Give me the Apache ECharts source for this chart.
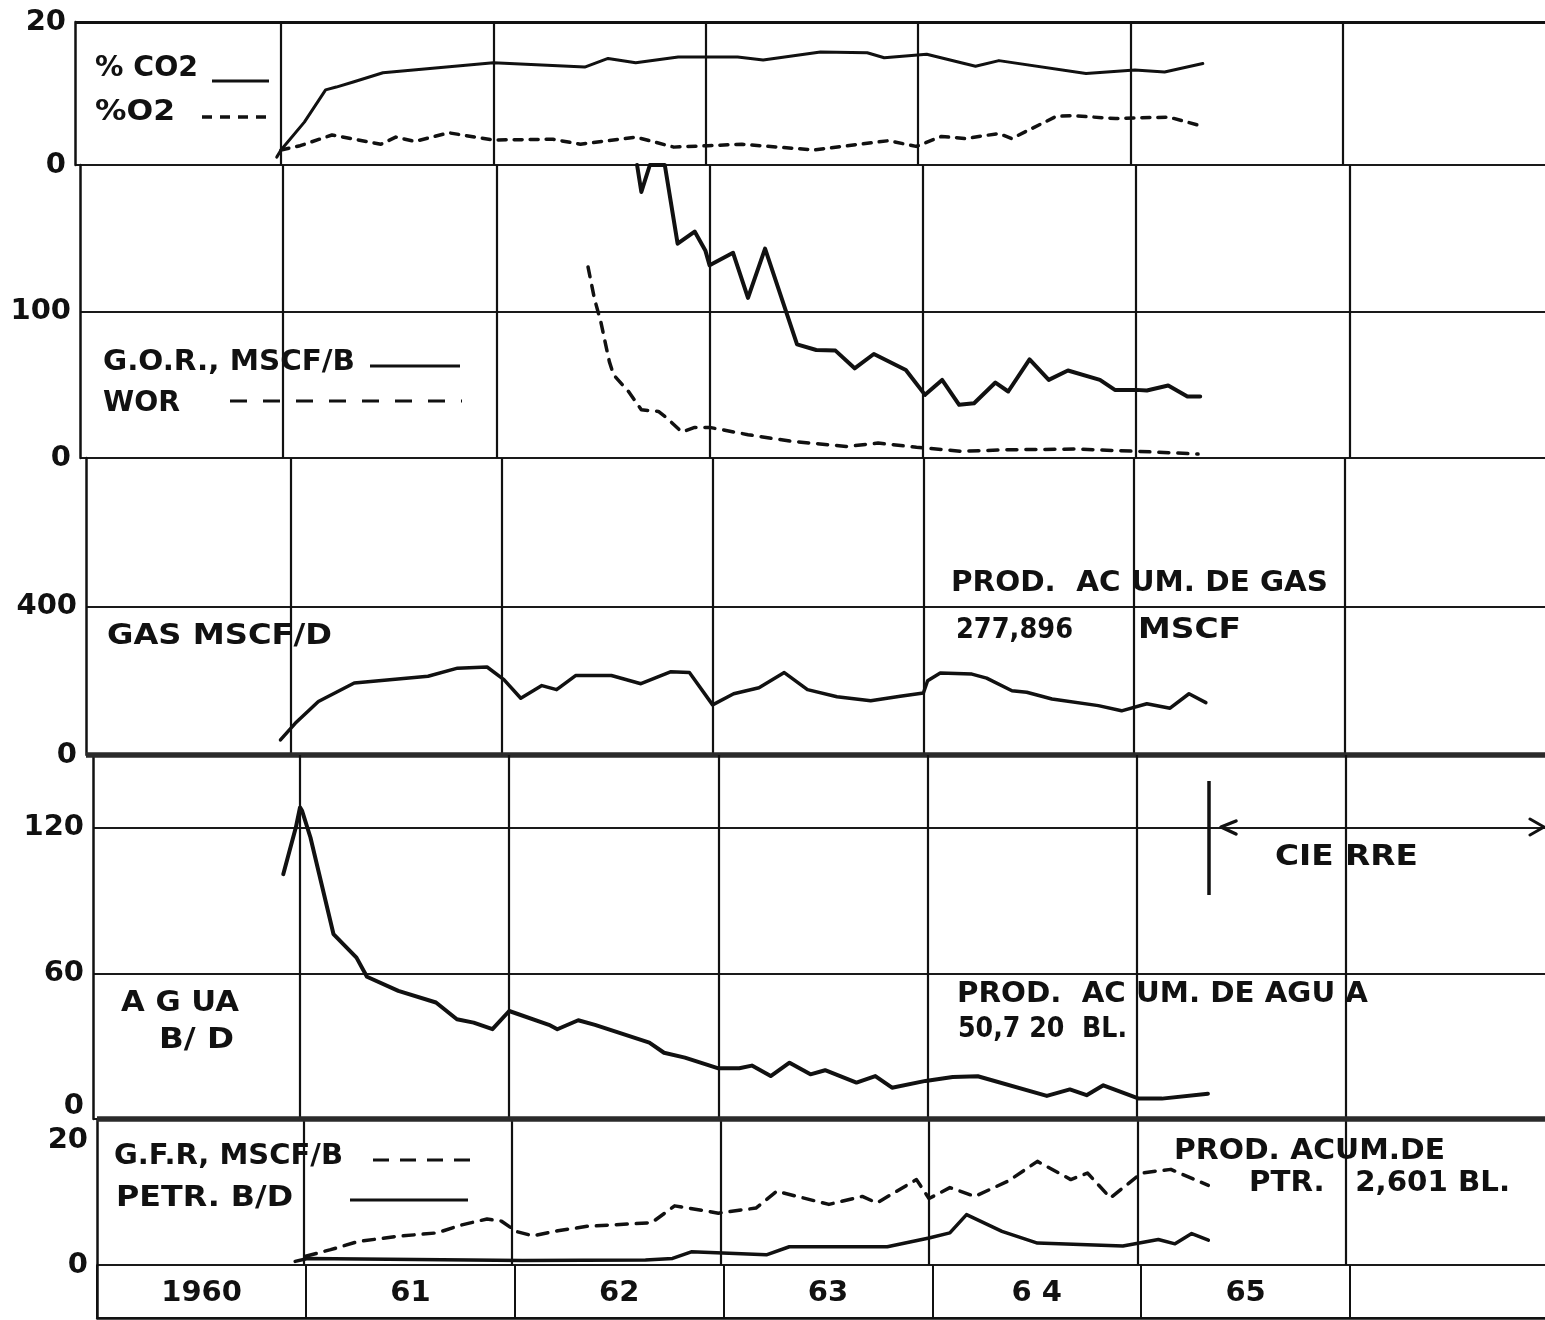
<!DOCTYPE html>
<html><head><meta charset="utf-8">
<script src="https://cdn.jsdelivr.net/npm/echarts@6/dist/echarts.min.js"></script>
<style>html,body{margin:0;padding:0;background:#fff}#c{width:1545px;height:1320px}</style>
</head><body><div id="c"></div>
<script>
// ---------------- DATA ----------------
const yearLines = [1961, 1962, 1963, 1964, 1965, 1966];
const yearLabels = ['1960', '61', '62', '63', '6 4', '65'];
const yearMids = [1960.5, 1961.5, 1962.5, 1963.5, 1964.5, 1965.5];

const co2 = [[1960.98,1.1],[1961.0,2.1],[1961.11,6.0],[1961.21,10.5],[1961.26,10.9],[1961.34,11.6],[1961.48,12.9],[1962.0,14.3],[1962.43,13.7],[1962.54,14.9],[1962.67,14.3],[1962.87,15.1],[1963.15,15.1],[1963.27,14.7],[1963.54,15.8],[1963.76,15.7],[1963.84,15.0],[1964.04,15.5],[1964.27,13.8],[1964.38,14.6],[1964.79,12.8],[1965.02,13.3],[1965.16,13.0],[1965.34,14.2]];
const o2 = [[1961.0,2.1],[1961.09,2.7],[1961.24,4.2],[1961.47,2.9],[1961.54,3.9],[1961.63,3.3],[1961.79,4.5],[1962.0,3.5],[1962.28,3.6],[1962.41,2.9],[1962.67,3.9],[1962.85,2.5],[1963.01,2.7],[1963.17,2.9],[1963.51,2.1],[1963.86,3.4],[1963.99,2.6],[1964.11,4.0],[1964.22,3.7],[1964.38,4.4],[1964.44,3.7],[1964.65,6.8],[1964.72,6.9],[1964.93,6.5],[1965.18,6.7],[1965.34,5.4]];
const gor = [[1962.66,200],[1962.68,181.6],[1962.72,200],[1962.79,200],[1962.85,146.3],[1962.93,154.6],[1962.98,141.7],[1963.0,131.5],[1963.11,140.1],[1963.18,109.3],[1963.26,142.9],[1963.41,77.6],[1963.5,73.7],[1963.59,73.3],[1963.68,61.2],[1963.77,71.0],[1963.92,60.1],[1964.01,43.1],[1964.09,53.3],[1964.17,36.3],[1964.24,37.4],[1964.34,51.5],[1964.4,45.4],[1964.5,67.3],[1964.59,53.3],[1964.68,59.7],[1964.83,53.3],[1964.9,46.5],[1965.0,46.5],[1965.05,46.1],[1965.15,49.5],[1965.24,42.0],[1965.3,42.0]];
const wor = [[1962.43,130.4],[1962.46,108.8],[1962.49,92.9],[1962.51,79.3],[1962.53,65.8],[1962.55,56.7],[1962.62,45.4],[1962.68,32.9],[1962.76,31.8],[1962.8,27.2],[1962.87,17.7],[1962.93,20.9],[1963.0,20.9],[1963.18,15.9],[1963.39,11.3],[1963.64,7.9],[1963.79,10.2],[1963.97,7.3],[1964.18,4.6],[1964.39,5.6],[1964.71,6.1],[1965.0,4.6],[1965.19,3.4],[1965.29,2.7]];
const gas = [[1960.95,40.5],[1961.02,85.4],[1961.13,144],[1961.3,194],[1961.65,212],[1961.79,234],[1961.93,237],[1962.01,203],[1962.09,153],[1962.19,187],[1962.26,176],[1962.35,214],[1962.52,214],[1962.66,192],[1962.8,224],[1962.89,222],[1963.0,135],[1963.1,165],[1963.22,181],[1963.34,222],[1963.45,176],[1963.59,157],[1963.75,146],[1963.89,158],[1964.0,167],[1964.02,200],[1964.08,221],[1964.23,218],[1964.3,207],[1964.42,173],[1964.49,169],[1964.61,151],[1964.83,133],[1964.94,119],[1965.06,138],[1965.17,126],[1965.26,165],[1965.34,141]];
const agua = [[1960.92,100.9],[1960.98,120.1],[1961.0,128.4],[1961.01,127],[1961.05,116],[1961.16,76.2],[1961.27,66.5],[1961.32,58.6],[1961.47,52.8],[1961.65,48],[1961.75,41.1],[1961.83,39.7],[1961.92,37],[1962.0,44.5],[1962.19,38.8],[1962.23,37],[1962.33,40.7],[1962.41,38.8],[1962.67,31.5],[1962.74,27.3],[1962.84,25.3],[1963.0,20.9],[1963.1,20.9],[1963.16,22],[1963.25,17.7],[1963.34,23.2],[1963.44,18.4],[1963.51,20.1],[1963.66,15],[1963.75,17.7],[1963.83,12.9],[1963.99,15.7],[1964.12,17.3],[1964.24,17.6],[1964.57,9.5],[1964.68,12.2],[1964.76,9.8],[1964.84,13.9],[1965.01,8.4],[1965.12,8.4],[1965.34,10.4]];
const gfr = [[1961.01,1.2],[1961.13,2.1],[1961.26,3.2],[1961.44,3.9],[1961.64,4.4],[1961.76,5.5],[1961.88,6.3],[1961.95,6.0],[1962.02,4.6],[1962.1,4.0],[1962.22,4.7],[1962.36,5.3],[1962.67,5.8],[1962.78,8.1],[1962.99,7.1],[1963.17,7.8],[1963.27,10.1],[1963.52,8.3],[1963.68,9.4],[1963.75,8.5],[1963.94,11.7],[1964.0,9.1],[1964.1,10.6],[1964.22,9.4],[1964.38,11.5],[1964.52,14.2],[1964.68,11.7],[1964.76,12.6],[1964.87,9.2],[1965.02,12.6],[1965.16,13.1],[1965.34,10.9]];
const petr = [[1960.96,0.5],[1961.02,0.9],[1962.05,0.6],[1962.64,0.7],[1962.77,0.9],[1962.86,1.8],[1963.22,1.4],[1963.33,2.5],[1963.8,2.5],[1964.0,3.7],[1964.1,4.4],[1964.18,6.9],[1964.35,4.6],[1964.52,3.0],[1964.93,2.6],[1965.1,3.5],[1965.18,2.9],[1965.26,4.3],[1965.34,3.4]];

// ---------------- LAYOUT ----------------
const INK = '#111';
const FONT = '"DejaVu Sans", sans-serif';
const X_END = 1967;
const panels = [
  {top: 22,   bottom: 165,  left: 75, p1961: 281,   step: 212.4, min: 0, max: 20,  interval: 20},
  {top: 165,  bottom: 458,  left: 80, p1961: 283,   step: 213.3, min: 0, max: 200, interval: 100, hideMax: true},
  {top: 458,  bottom: 755,  left: 86, p1961: 291,   step: 210.8, min: 0, max: 800, interval: 400, hideMax: true},
  {top: 755,  bottom: 1119, left: 93, p1961: 300,   step: 209.2, min: 0, max: 150, interval: 60,  hideMax: true, zeroUp: true},
  {top: 1119, bottom: 1265, left: 97, p1961: 303.5, step: 208.5, min: 0, max: 20,  interval: 20,  topDown: true},
  {top: 1265, bottom: 1318, left: 0,  p1961: 306,   step: 208.8, min: 0, max: 1,   interval: 1,   noLabel: true}
];
panels.forEach((p, i) => {
  if (i === 5) { p.xmin = 1960; p.left = p.p1961 - p.step; }
  else p.xmin = 1961 - (p.p1961 - p.left) / p.step;
});

const grids = panels.map(p => ({
  left: p.left, top: p.top, width: (X_END - p.xmin) * p.step, height: p.bottom - p.top,
  outerBoundsMode: 'none', containLabel: false
}));

const xAxes = panels.map((p, i) => {
  if (i < 5) return {gridIndex: i, type: 'value', min: p.xmin, max: X_END, show: false};
  return {
    gridIndex: i, type: 'value', min: 1960, max: X_END, interval: 1, position: 'bottom',
    axisLine: {show: true, lineStyle: {color: INK, width: 2.5}},
    axisTick: {show: false},
    splitLine: {show: true, lineStyle: {color: INK, width: 2}},
    axisLabel: {
      inside: true, margin: 10, customValues: yearMids,
      fontSize: 29, fontWeight: 'bold', fontFamily: FONT, color: INK,
      formatter: v => yearLabels[Math.round(v - 1960.5)] || ''
    }
  };
});

const labelRich = {
  up: {fontSize: 29, fontWeight: 'bold', fontFamily: FONT, color: INK, padding: [0, 0, 26, 0]},
  down: {fontSize: 29, fontWeight: 'bold', fontFamily: FONT, color: INK, padding: [42, 0, 0, 0]}
};
const yAxes = panels.map((p, i) => ({
  gridIndex: i, type: 'value', min: p.min, max: p.max, interval: p.interval,
  axisLine: {show: true, lineStyle: {color: INK, width: 2.5}},
  axisTick: {show: false},
  splitLine: {show: true, lineStyle: {color: '#1a1a1a', width: 2}},
  axisLabel: {
    show: !p.noLabel, showMaxLabel: !p.hideMax, showMinLabel: true,
    fontSize: 29, fontWeight: 'bold', fontFamily: FONT, color: INK, margin: 9, rich: labelRich,
    formatter: v => {
      if (p.zeroUp && v === 0) return '{up|0}';
      if (p.topDown && v === p.max) return '{down|' + v + '}';
      return String(v);
    }
  }
}));

function vLines(extra) {
  return {
    silent: true, symbol: ['none', 'none'], animation: false,
    label: {show: false},
    lineStyle: {color: INK, width: 2.2, type: 'solid'},
    data: yearLines.map(y => ({xAxis: y})).concat(extra || [])
  };
}
function ln(name, data, idx, width, dash, marks) {
  const s = {
    name, type: 'line', xAxisIndex: idx, yAxisIndex: idx, data,
    symbol: 'none', animation: false, z: 5,
    lineStyle: {color: INK, width, type: dash || 'solid', cap: 'round', join: 'round'}
  };
  if (marks) s.markLine = marks;
  return s;
}
const thick = {lineStyle: {color: '#2b2b2b', width: 5.5, type: 'solid'}};
const series = [
  ln('% CO2', co2, 0, 3, null, vLines([{yAxis: 20, lineStyle: {color: INK, width: 3}}])),
  ln('% O2', o2, 0, 3.5, [8, 8]),
  ln('G.O.R., MSCF/B', gor, 1, 4, null, vLines()),
  ln('WOR', wor, 1, 3.5, [10, 9]),
  ln('GAS MSCF/D', gas, 2, 3.5, null, vLines([Object.assign({yAxis: 0}, thick)])),
  ln('AGUA B/D', agua, 3, 4, null, vLines()),
  ln('PETR. B/D', petr, 4, 3.5, null, vLines([Object.assign({yAxis: 20}, thick)])),
  ln('G.F.R, MSCF/B', gfr, 4, 3.5, [11, 9]),
  {type: 'line', xAxisIndex: 5, yAxisIndex: 5, data: [], symbol: 'none'}
];

// ---------------- ANNOTATIONS ----------------
const mctx = document.createElement('canvas').getContext('2d');
const TXT_FONT = 'bold 29px "DejaVu Sans"';
mctx.font = TXT_FONT;
function txt(text, x, cy, w) {
  const m = mctx.measureText(text).width;
  return {
    type: 'text', x, y: cy, scaleX: w / m, z: 10, silent: true,
    style: {text, font: TXT_FONT, fill: INK, verticalAlign: 'middle', align: 'left'}
  };
}
function seg(x1, y1, x2, y2, w, dash) {
  return {type: 'line', z: 10, silent: true, shape: {x1, y1, x2, y2},
    style: {stroke: INK, lineWidth: w, lineDash: dash || null, lineCap: 'butt'}};
}
function poly(points, w) {
  return {type: 'polyline', z: 10, silent: true, shape: {points},
    style: {stroke: INK, lineWidth: w, fill: null, lineJoin: 'round', lineCap: 'round'}};
}
const graphic = [
  txt('% CO2', 95, 68, 103), seg(212, 81, 269, 81, 3),
  txt('%O2', 95, 112, 80), seg(202, 117, 272, 117, 3.5, [10, 8]),
  txt('G.O.R., MSCF/B', 103, 362, 252), seg(370, 366, 460, 366, 3),
  txt('WOR', 103, 403, 77), seg(230, 401, 462, 401, 3, [17, 16]),
  txt('GAS MSCF/D', 107, 636, 225),
  txt('PROD.  AC UM. DE GAS', 951, 583, 377),
  txt('277,896', 956, 630, 117), txt('MSCF', 1138, 630, 103),
  txt('A G UA', 121, 1003, 118), txt('B/ D', 159, 1040, 75),
  txt('PROD.  AC UM. DE AGU A', 957, 994, 411),
  txt('50,7 20  BL.', 958, 1029, 169),
  txt('CIE RRE', 1275, 857, 143),
  seg(1209, 781, 1209, 895, 3.5),
  poly([[1236, 821], [1221, 827], [1236, 834]], 3.5),
  poly([[1530, 819], [1544, 827], [1530, 835]], 3),
  txt('G.F.R, MSCF/B', 114, 1156, 229), seg(373, 1160, 475, 1160, 3, [16, 11]),
  txt('PETR. B/D', 116, 1198, 177), seg(350, 1200, 468, 1200, 3),
  txt('PROD. ACUM.DE', 1174, 1151, 271),
  txt('PTR.   2,601 BL.', 1249, 1183, 261)
];

const chart = echarts.init(document.getElementById('c'), null, {renderer: 'canvas', width: 1545, height: 1320});
chart.setOption({
  backgroundColor: '#fff',
  animation: false,
  grid: grids, xAxis: xAxes, yAxis: yAxes, series, graphic
});
</script>
</body></html>
